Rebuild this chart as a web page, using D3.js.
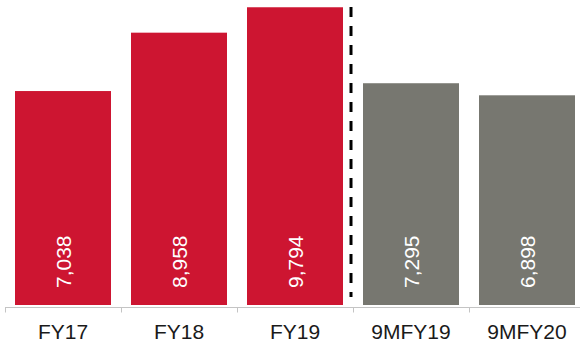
<!DOCTYPE html>
<html>
<head>
<meta charset="utf-8">
<script src="https://cdn.jsdelivr.net/npm/d3@7"></script>
<style>
  html, body { margin: 0; padding: 0; background: #ffffff; }
  svg { display: block; }
</style>
</head>
<body>
<svg id="chart" width="580" height="345"></svg>
<script>
const categories = ["FY17", "FY18", "FY19", "9MFY19", "9MFY20"];
const values = [7038, 8958, 9794, 7295, 6898];
const barColors = ["#CD1531", "#CD1531", "#CD1531", "#777770", "#777770"];
const dividerAfter = "FY19";

const svg = d3.select("#chart");
const baseY = 305;

const x = d3.scaleBand()
  .domain(categories)
  .range([5, 585])
  .paddingInner(20 / 116)
  .paddingOuter(10 / 116);

const y = d3.scaleLinear()
  .domain([0, 10000])
  .range([baseY, 1]);

// bars
svg.append("g").selectAll("rect")
  .data(categories)
  .join("rect")
  .attr("x", d => x(d))
  .attr("width", x.bandwidth())
  .attr("y", (d, i) => y(values[i]))
  .attr("height", (d, i) => y(0) - y(values[i]))
  .attr("fill", (d, i) => barColors[i]);

// value labels (rotated)
svg.append("g").selectAll("text")
  .data(categories)
  .join("text")
  .attr("transform", d => `translate(${x(d) + x.bandwidth() / 2 + 7.5},${baseY - 17}) rotate(-90)`)
  .attr("text-anchor", "start")
  .attr("fill", "#ffffff")
  .style("font-family", "'Liberation Sans', Arial, sans-serif")
  .style("font-size", "21px")
  .text((d, i) => d3.format(",")(values[i]));

// x axis
const step = x.step();
const axisY = 307.5;
const axis = svg.append("g");
axis.append("line")
  .attr("x1", 5).attr("x2", 585)
  .attr("y1", axisY).attr("y2", axisY)
  .attr("stroke", "#c4c4c4").attr("stroke-width", 1);
const boundaries = d3.range(categories.length + 1).map(i => 5 + i * step);
axis.selectAll("line.tick")
  .data(boundaries)
  .join("line")
  .attr("class", "tick")
  .attr("x1", d => Math.round(d) + 0.5).attr("x2", d => Math.round(d) + 0.5)
  .attr("y1", axisY).attr("y2", axisY + 5)
  .attr("stroke", "#c4c4c4").attr("stroke-width", 1);
axis.selectAll("text")
  .data(categories)
  .join("text")
  .attr("x", d => x(d) + x.bandwidth() / 2)
  .attr("y", 338.5)
  .attr("text-anchor", "middle")
  .attr("fill", "#1a1a1a")
  .style("font-family", "'Liberation Sans', Arial, sans-serif")
  .style("font-size", "21px")
  .text(d => d);

// dashed divider
const divX = x(dividerAfter) + x.bandwidth() + (step - x.bandwidth()) / 2 - 2;
svg.append("line")
  .attr("x1", divX).attr("x2", divX)
  .attr("y1", 7).attr("y2", 297)
  .attr("stroke", "#000000")
  .attr("stroke-width", 3)
  .attr("stroke-dasharray", "10,9");
</script>
</body>
</html>
